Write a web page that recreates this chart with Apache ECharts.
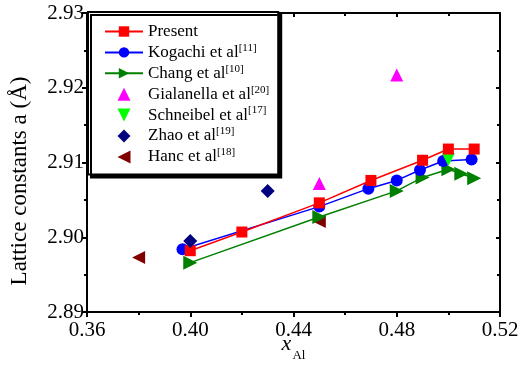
<!DOCTYPE html>
<html>
<head>
<meta charset="utf-8">
<script src="https://cdn.jsdelivr.net/npm/echarts@6/dist/echarts.min.js"></script>
<style>
  html, body { margin: 0; padding: 0; background: #fff; }
  #chart { width: 519px; height: 366px; }
</style>
</head>
<body>
<div id="chart"></div>
<script>
// composition x_Al vs lattice constant a (Å)
const presentData = [[0.400, 2.8982], [0.420, 2.9007], [0.450, 2.9046], [0.470, 2.9076], [0.490, 2.9103], [0.500, 2.9118], [0.510, 2.9118]];
const kogachiData = [[0.397, 2.8984], [0.450, 2.9041], [0.469, 2.9065], [0.480, 2.9076], [0.489, 2.9090], [0.498, 2.9102], [0.509, 2.9104]];
const changData = [[0.400, 2.8966], [0.450, 2.9027], [0.480, 2.9062], [0.490, 2.9080], [0.500, 2.9091], [0.505, 2.9085], [0.510, 2.9079]];
const gialanellaData = [[0.480, 2.9217], [0.450, 2.9072]];
const schneibelData = [[0.500, 2.9104]];
const zhaoData = [[0.400, 2.8995], [0.430, 2.9062]];
const hancData = [[0.380, 2.8973], [0.450, 2.9021]];

const seriesNames = ['Present', 'Kogachi et al', 'Chang et al', 'Gialanella et al', 'Schneibel et al', 'Zhao et al', 'Hanc et al'];
const seriesRefs = ['', '[11]', '[10]', '[20]', '[17]', '[19]', '[18]'];

const xTicks = { min: 0.36, max: 0.52, interval: 0.04 };
const yTicks = { min: 2.89, max: 2.93, interval: 0.01 };

const FONT = '"Liberation Serif", "Times New Roman", serif';
// path symbols keep their aspect in the legend box too
const triUp = 'path://M5,0 L10,10 L0,10 Z';
const triRight = 'path://M0,0 L10,5 L0,10 Z';
const triDown = 'path://M0,0 L10,0 L5,10 Z';
const triLeft = 'path://M10,0 L0,5 L10,10 Z';
const diamond = 'path://M5,0 L10,5 L5,10 L0,5 Z';

const chart = echarts.init(document.getElementById('chart'));

const axisLine = { lineStyle: { color: '#000', width: 2 } };

function lineSeries(name, data, color, symbol, size, z) {
  return {
    name, type: 'line', data, z,
    symbol, symbolSize: size, symbolKeepAspect: true,
    lineStyle: { color, width: 1.5 },
    itemStyle: { color },
    animation: false,
  };
}

function scatterSeries(name, data, color, symbol, size, z) {
  return {
    name, type: 'scatter', data, z,
    symbol, symbolSize: size, symbolKeepAspect: true,
    itemStyle: { color, opacity: 1 },
    animation: false,
  };
}

const option = {
  animation: false,
  grid: { left: 87, right: 19, top: 13, bottom: 54, outerBoundsMode: 'none', containLabel: false },
  legend: {
    orient: 'vertical',
    left: 88,
    top: 12,
    padding: [11, 9, 9, 16],
    itemWidth: 38,
    itemHeight: 13,
    itemGap: 2.4,
    backgroundColor: '#fff',
    borderColor: '#000',
    borderWidth: 2,
    shadowColor: '#000',
    shadowBlur: 0,
    shadowOffsetX: 3,
    shadowOffsetY: 3,
    data: seriesNames,
    formatter: (name) => {
      const ref = seriesRefs[seriesNames.indexOf(name)];
      return ref ? `{t|${name}}{s|${ref}}` : `{t|${name}}`;
    },
    textStyle: {
      fontFamily: FONT,
      color: '#000',
      rich: {
        t: { fontSize: 17, fontFamily: FONT, color: '#000', lineHeight: 20 },
        s: { fontSize: 11, fontFamily: FONT, color: '#000', verticalAlign: 'top', lineHeight: 12 },
      },
    },
  },
  xAxis: [
    {
      type: 'value',
      min: xTicks.min, max: xTicks.max, interval: xTicks.interval,
      axisLine,
      axisTick: { show: true, inside: false, length: 5, lineStyle: { color: '#000', width: 2 } },
      minorTick: { show: true, splitNumber: 2, length: 3, lineStyle: { color: '#000', width: 2 } },
      splitLine: { show: false },
      axisLabel: { color: '#000', fontSize: 21, fontFamily: FONT, margin: 8, formatter: v => v.toFixed(2) },
      name: '{x|x}{s|Al}',
      nameLocation: 'middle',
      nameGap: 20,
      nameMoveOverlap: false,
      nameTextStyle: {
        rich: {
          x: { fontSize: 22, fontStyle: 'italic', fontFamily: FONT, color: '#000', lineHeight: 24 },
          s: { fontSize: 13, fontFamily: FONT, color: '#000', verticalAlign: 'bottom', lineHeight: 14, padding: [0, 0, -6, 1] },
        },
      },
    },
    {
      type: 'value', position: 'top',
      min: xTicks.min, max: xTicks.max, interval: xTicks.interval,
      axisLine,
      axisTick: { show: true, inside: true, length: 4, lineStyle: { color: '#000', width: 2 } },
      minorTick: { show: true, splitNumber: 2, length: 3, lineStyle: { color: '#000', width: 2 } },
      splitLine: { show: false },
      axisLabel: { show: false },
    },
  ],
  yAxis: [
    {
      type: 'value',
      min: yTicks.min, max: yTicks.max, interval: yTicks.interval,
      axisLine,
      axisTick: { show: true, inside: false, length: 5, lineStyle: { color: '#000', width: 2 } },
      minorTick: { show: true, splitNumber: 2, length: 3, lineStyle: { color: '#000', width: 2 } },
      splitLine: { show: false },
      axisLabel: { color: '#000', fontSize: 21, fontFamily: FONT, margin: 3, formatter: v => v.toFixed(2) },
    },
    {
      type: 'value', position: 'right',
      min: yTicks.min, max: yTicks.max, interval: yTicks.interval,
      axisLine,
      axisTick: { show: true, inside: true, length: 4, lineStyle: { color: '#000', width: 2 } },
      minorTick: { show: true, splitNumber: 2, length: 3, lineStyle: { color: '#000', width: 2 } },
      splitLine: { show: false },
      axisLabel: { show: false },
    },
  ],
  graphic: [
    {
      type: 'text',
      x: 20, y: 181,
      rotation: Math.PI / 2,
      style: {
        text: 'Lattice constants a (Å)',
        fontSize: 23,
        fontFamily: FONT,
        fill: '#000',
        align: 'center',
        verticalAlign: 'middle',
      },
    },
  ],
  series: [
    scatterSeries('Hanc et al', hancData, '#800000', triLeft, 13, 2),
    scatterSeries('Gialanella et al', gialanellaData, '#ff00ff', triUp, 13, 2),
    lineSeries('Chang et al', changData, '#008000', triRight, 14, 3),
    lineSeries('Kogachi et al', kogachiData, '#0000ff', 'circle', 12, 3),
    scatterSeries('Schneibel et al', schneibelData, '#00ff00', triDown, 13, 4),
    lineSeries('Present', presentData, '#ff0000', 'rect', 11, 5),
    scatterSeries('Zhao et al', zhaoData, '#000080', diamond, 14, 6),
  ],
};

chart.setOption(option);
</script>
</body>
</html>
